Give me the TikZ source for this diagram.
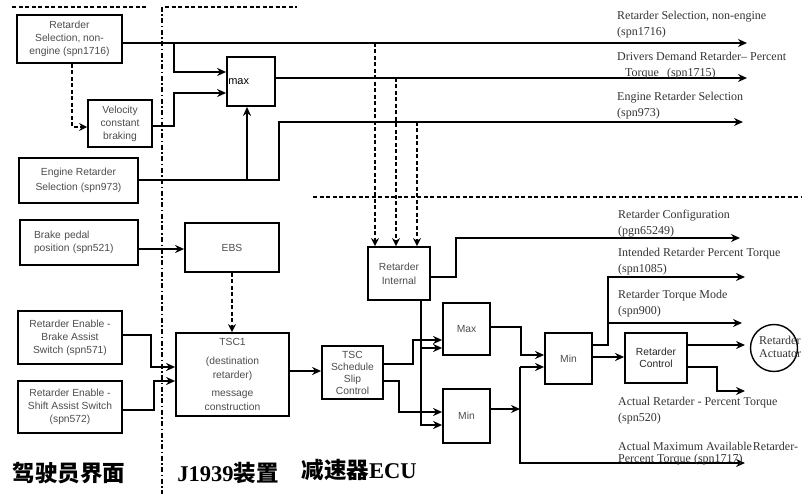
\documentclass[tikz,border=0pt]{standalone}
\usepackage{fontspec}
\setmainfont{Liberation Serif}
\setsansfont{Liberation Sans}
\newfontfamily\cjk{Noto Sans CJK SC}
\usetikzlibrary{arrows.meta,calc}
\definecolor{txt}{gray}{0.3}
\definecolor{lbl}{gray}{0.2}
\begin{document}
\begin{tikzpicture}[x=1pt,y=-1pt,
 blk/.style={draw,line width=1.8pt,inner sep=1pt,align=center,font=\sffamily\fontsize{10.3}{13}\selectfont,text=txt},
 ln/.style={line width=2pt},
 arr/.style={ln,-{Stealth[length=9pt,width=8pt]}},
 dsh/.style={line width=1.6pt,dash pattern=on 4pt off 2.5pt},
 darr/.style={dsh,-{Stealth[length=8pt,width=8pt]}},
 sepline/.style={line width=1.6pt,dash pattern=on 5pt off 2.5pt on 1.5pt off 2.5pt},
 lab/.style={anchor=base west,align=left,font=\fontsize{12}{16}\selectfont,text=lbl,inner sep=0pt},
 cjkl/.style={font=\bfseries\fontsize{22.5}{24}\selectfont}
]
\useasboundingbox (0,0) rectangle (802,494);

% separators
\draw[dsh] (12,7) -- (148,7);
\draw[dsh] (165,7) -- (297,7);
\draw[sepline] (162,7) -- (162,494);
\draw[dsh] (313,197) -- (802,197);

% blocks
\node[blk,minimum width=105pt,minimum height=48pt] (rs) at (69.5,39) {Retarder\\Selection, non-\\engine (spn1716)};
\node[blk,minimum width=64pt,minimum height=47pt] (vel) at (120,123.5) {Velocity\\constant\\braking};
\node[blk,minimum width=119pt,minimum height=45pt,font=\sffamily\fontsize{10.3}{15}\selectfont] (ers) at (78.5,180.5) {Engine Retarder\\Selection (spn973)};
\node[blk,minimum width=118pt,minimum height=45pt,align=left,text width=90pt] (bp) at (79,242.5) {Brake pedal\\position (spn521)};
\node[blk,minimum width=94pt,minimum height=49pt] (ebs) at (232,247.5) {EBS};
\node[blk,minimum width=104pt,minimum height=53pt] (ba) at (70,337.5) {Retarder Enable -\\Brake Assist\\Switch (spn571)};
\node[blk,minimum width=104pt,minimum height=52pt] (sa) at (70,407) {Retarder Enable -\\Shift Assist Switch\\(spn572)};
\node[blk,minimum width=113pt,minimum height=83pt,font=\sffamily\fontsize{10.3}{14}\selectfont] (tsc1) at (232.5,374.5) {TSC1\\[5pt](destination\\retarder)\\[4pt]message\\construction};
\node[blk,minimum width=48pt,minimum height=49pt] (mx) at (251,81.5) {};
\node[anchor=west,inner sep=0pt,font=\sffamily\fontsize{11}{12}\selectfont] (mxt) at ([xshift=2pt]mx.west) {max};
\node[blk,minimum width=62pt,minimum height=53pt,font=\sffamily\fontsize{10.3}{14}\selectfont] (ri) at (399,273.5) {Retarder\\Internal};
\node[blk,minimum width=61pt,minimum height=53pt,font=\sffamily\fontsize{10.3}{12}\selectfont] (tscs) at (352.5,372.5) {TSC\\Schedule\\Slip\\Control};
\node[blk,minimum width=47pt,minimum height=52pt] (max2) at (466.5,329) {Max};
\node[blk,minimum width=47pt,minimum height=54pt] (min1) at (466.5,416) {Min};
\node[blk,minimum width=47pt,minimum height=51pt] (min2) at (568.5,358.5) {Min};
\node[blk,minimum width=62pt,minimum height=50pt,font=\sffamily\fontsize{10.3}{12.5}\selectfont,text=black!85] (rc) at (656,358) {Retarder\\Control};
\node[draw,circle,line width=1.4pt,minimum size=47pt,inner sep=0pt] (act) at (774,348) {};
\node[anchor=west,align=left,inner sep=0pt,font=\fontsize{12}{13}\selectfont,text=lbl] (actt) at (759,347) {Retarder\\Actuator};

% junctions and free ends
\coordinate (j1) at (174,43);
\coordinate (j2) at (174,93);
\coordinate (j3) at (279,122);
\coordinate (j4) at (247,180.5);
\coordinate (d1) at (375,43);
\coordinate (d2) at (396,78);
\coordinate (d3) at (417,122);
\coordinate (j6) at (421,348);
\coordinate (j7) at (520,409);
\coordinate (j8) at (520,367);
\coordinate (j9) at (520,463);
\coordinate (j10) at (607,323);
\coordinate (o1) at (747,43);
\coordinate (o2) at (747,78);
\coordinate (o3) at (743,122);
\coordinate (o4) at (740,238);
\coordinate (o5) at (745,277);
\coordinate (o6) at (742,323);
\coordinate (o7) at (745,345);
\coordinate (o8) at (745,391);
\coordinate (o9) at (745,463);

% connectors
\draw[arr] ([yshift=-4pt]rs.east) -- (o1);
\draw[arr] (j1) |- ([yshift=9.5pt]mx.west);
\draw[darr] ([xshift=2.5pt]rs.south) |- ([yshift=-3.5pt]vel.west);
\draw[arr] ([yshift=-2.5pt]vel.east) -| (j2) -- ([yshift=-11.5pt]mx.west);
\draw[arr] ([yshift=3.5pt]mx.east) -- (o2);
\draw[arr] (ers.east) -| (j3) -- (o3);
\draw[arr] (j4) -- ([xshift=-4pt]mx.south);
\draw[arr] ([yshift=-6.5pt]bp.east) -- ([yshift=-1.5pt]ebs.west);
\draw[darr] (ebs.south) -- (ebs.south |- tsc1.north);
\draw[arr] ([yshift=2.5pt]ba.east) -- ++(28,0) |- ([yshift=7.5pt]tsc1.west);
\draw[arr] ([yshift=-3pt]sa.east) -- ++(31,0) |- ([yshift=-6.5pt]tsc1.west);
\draw[arr] ([yshift=3.5pt]tsc1.east) -- ([yshift=1.5pt]tscs.west);
\draw[darr] (d1) -- ([xshift=-24pt]ri.north);
\draw[darr] (d2) -- ([xshift=-3pt]ri.north);
\draw[darr] (d3) -- ([xshift=18pt]ri.north);
\draw[arr] ([yshift=-3.5pt]ri.east) -- ++(25,0) |- (o4);
\draw[arr] ([xshift=22pt]ri.south) |- ([yshift=-9pt]min1.west);
\draw[arr] (j6) -- ([yshift=-19pt]max2.west);
\draw[arr] ([yshift=8.5pt]tscs.east) -- ++(29,0) |- ([yshift=-11pt]max2.west);
\draw[arr] ([yshift=-8.5pt]tscs.east) -- ++(15,0) |- ([yshift=4pt]min1.west);
\draw[arr] ([yshift=2pt]max2.east) -- ++(30,0) |- ([yshift=3.5pt]min2.west);
\draw[arr] ([yshift=7pt]min1.east) -- (j7);
\draw[arr] (j8) -- ([yshift=-8.5pt]min2.west);
\draw[arr] (j8) -- (j9) -- (o9);
\draw[arr] ([yshift=13.5pt]min2.east) -- ++(15,0) |- (o5);
\draw[arr] (j10) -- (o6);
\draw[arr] ([yshift=1.5pt]min2.east) -- ([yshift=1pt]rc.west);
\draw[arr] ([yshift=13pt]rc.east) -- (o7);
\draw[arr] ([yshift=-9pt]rc.east) -- ++(29,0) |- (o8);

% signal labels (anchored at the baseline of the last line)
\node[lab] (l1) at (617,36) {Retarder Selection, non-engine\\(spn1716)};
\node[lab] (l2) at (617,77) {Drivers Demand Retarder– Percent\\\hspace*{8pt}Torque\hspace{8pt}(spn1715)};
\node[lab] (l3) at (617,117) {Engine Retarder Selection\\(spn973)};
\node[lab] (l4) at (618,234) {Retarder Configuration\\(pgn65249)};
\node[lab] (l5) at (618,272) {Intended Retarder Percent Torque\\(spn1085)};
\node[lab] (l6) at (618,314) {Retarder Torque Mode\\(spn900)};
\node[lab] (l7) at (618,421) {Actual Retarder - Percent Torque\\(spn520)};
\node[lab,font=\fontsize{12}{12}\selectfont] (l8) at (618,462) {Actual Maximum Available\hspace{1pt}Retarder-\\Percent Torque (spn1717)};

% region titles
\node[cjkl] (t1) at (69,473) {\cjk 驾驶员界面};
\node[cjkl] (t2) at (228,473) {J1939{\cjk 装置}};
\node[cjkl] (t3) at (359,470) {{\cjk 减速器}ECU};
\end{tikzpicture}
\end{document}
